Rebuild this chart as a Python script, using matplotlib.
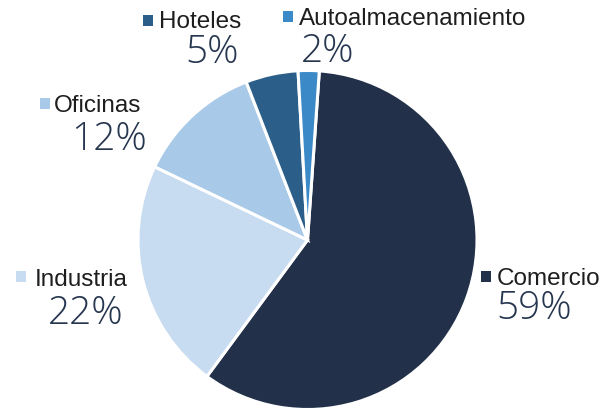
import matplotlib
matplotlib.use("Agg")
import matplotlib.pyplot as plt
from matplotlib.patches import Rectangle

# datos
categorias = ["Comercio", "Industria", "Oficinas", "Hoteles", "Autoalmacenamiento"]
valores = [59, 22, 12, 5, 2]
colores = ["#22304a", "#c7dcf0", "#a9c9e8", "#2b5f8a", "#3b89c6"]

W, H = 613, 410
fig = plt.figure(figsize=[W / 100, H / 100], dpi=100)
ax = fig.add_axes([0, 0, 1, 1])

# pie en coordenadas de pixel (y hacia arriba)
ax.pie(valores, colors=colores, startangle=86, counterclock=False,
       center=(307.5, H - 241), radius=169.5, frame=True,
       wedgeprops=dict(edgecolor="white", linewidth=2.2))
ax.set_xlim(0, W)
ax.set_ylim(0, H)
ax.set_aspect("equal")
ax.axis("off")

# posiciones en pixeles desde arriba:
# (x cuadro, y cuadro arriba, x nombre, base nombre, x %, base %)
pos = {
    "Comercio": (481, 272, 497, 285, 496, 319),
    "Industria": (16, 272, 35, 286, 48, 324),
    "Oficinas": (40, 99, 54, 112, 71, 150),
    "Hoteles": (143, 16, 159, 28, 185, 63),
    "Autoalmacenamiento": (283, 12, 299, 25, 301, 62),
}

nombre_font = dict(family=["Liberation Sans", "DejaVu Sans"], size=17.5, color="#1e1e1e")
pct_font = dict(family=["Open Sans", "DejaVu Sans"], weight="light", size=28, color="#26364f")

for cat, val, col in zip(categorias, valores, colores):
    xs, ys, xn, yn, xp, yp = pos[cat]
    ax.add_patch(Rectangle((xs, H - ys - 11), 10, 11, color=col, lw=0))
    ax.text(xn, H - yn, cat, va="baseline", ha="left", **nombre_font)
    ax.text(xp, H - yp, f"{val}%", va="baseline", ha="left", **pct_font)

fig.savefig("out.png", dpi=100)
